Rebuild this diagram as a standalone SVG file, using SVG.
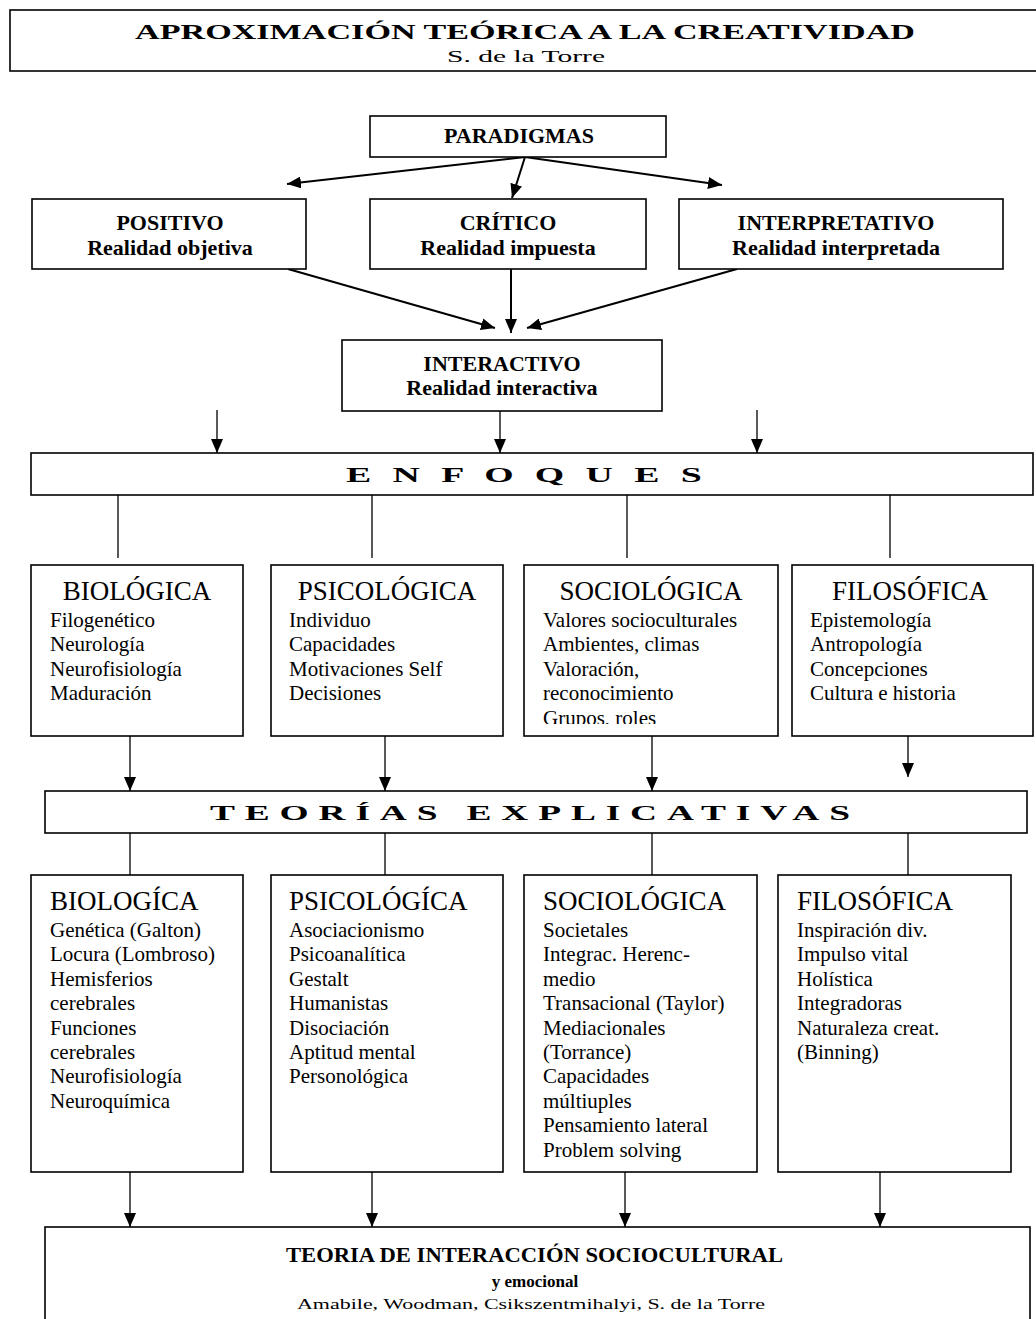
<svg xmlns="http://www.w3.org/2000/svg" width="1036" height="1319" viewBox="0 0 1036 1319">
<style>
.box{fill:#fff;stroke:#000;stroke-width:1.6}
.s{font-family:"Liberation Serif","Times New Roman",serif;fill:#000}
.b{font-weight:bold}
.lbl{font-size:22px;font-weight:bold;text-anchor:middle}
.hd{font-size:27px}
.hdc{font-size:27px;text-anchor:middle}
.it{font-size:21px}
.conn{stroke:#000;stroke-width:1.3;fill:none}
.thick{stroke-width:2}
</style>
<defs>
<marker id="ah" markerUnits="userSpaceOnUse" markerWidth="14" markerHeight="12" refX="14" refY="6" orient="auto">
<path d="M0,0 L14,6 L0,12 z" fill="#000"/>
</marker>
<clipPath id="clipSoc1"><rect x="524" y="565" width="254" height="159"/></clipPath>
</defs>

<g id="title">
<rect class="box" x="10" y="10" width="1040" height="61"/>
<text class="s b" x="135" y="39" font-size="20" textLength="780" lengthAdjust="spacingAndGlyphs">APROXIMACIÓN TEÓRICA A LA CREATIVIDAD</text>
<text class="s" x="447" y="62" font-size="17" textLength="158" lengthAdjust="spacingAndGlyphs">S. de la Torre</text>
</g>

<g id="connectors">
<line class="conn thick" x1="525" y1="157" x2="287" y2="184" marker-end="url(#ah)"/>
<line class="conn thick" x1="525" y1="157" x2="512" y2="198" marker-end="url(#ah)"/>
<line class="conn thick" x1="525" y1="157" x2="722" y2="185" marker-end="url(#ah)"/>
<line class="conn thick" x1="288" y1="269" x2="495" y2="328" marker-end="url(#ah)"/>
<line class="conn thick" x1="511" y1="269" x2="511" y2="333" marker-end="url(#ah)"/>
<line class="conn thick" x1="737" y1="269" x2="527" y2="328" marker-end="url(#ah)"/>
<line class="conn" x1="217" y1="410" x2="217" y2="453" marker-end="url(#ah)"/>
<line class="conn" x1="500" y1="411" x2="500" y2="453" marker-end="url(#ah)"/>
<line class="conn" x1="757" y1="410" x2="757" y2="453" marker-end="url(#ah)"/>
<line class="conn" x1="118" y1="495" x2="118" y2="558"/>
<line class="conn" x1="372" y1="495" x2="372" y2="558"/>
<line class="conn" x1="627" y1="495" x2="627" y2="558"/>
<line class="conn" x1="890" y1="495" x2="890" y2="558"/>
<line class="conn" x1="130" y1="736" x2="130" y2="791" marker-end="url(#ah)"/>
<line class="conn" x1="385" y1="736" x2="385" y2="791" marker-end="url(#ah)"/>
<line class="conn" x1="652" y1="736" x2="652" y2="791" marker-end="url(#ah)"/>
<line class="conn" x1="908" y1="736" x2="908" y2="777" marker-end="url(#ah)"/>
<line class="conn" x1="130" y1="833" x2="130" y2="875"/>
<line class="conn" x1="385" y1="833" x2="385" y2="875"/>
<line class="conn" x1="652" y1="833" x2="652" y2="875"/>
<line class="conn" x1="908" y1="833" x2="908" y2="875"/>
<line class="conn" x1="130" y1="1172" x2="130" y2="1227" marker-end="url(#ah)"/>
<line class="conn" x1="372" y1="1172" x2="372" y2="1227" marker-end="url(#ah)"/>
<line class="conn" x1="625" y1="1172" x2="625" y2="1227" marker-end="url(#ah)"/>
<line class="conn" x1="880" y1="1172" x2="880" y2="1227" marker-end="url(#ah)"/>
</g>

<g id="paradigmas">
<rect class="box" x="370" y="116" width="296" height="41"/>
<text class="s lbl" x="519" y="143">PARADIGMAS</text>
</g>
<g id="positivo">
<rect class="box" x="32" y="199" width="274" height="70"/>
<text class="s lbl" x="170" y="230">POSITIVO</text>
<text class="s lbl" x="170" y="255">Realidad objetiva</text>
</g>
<g id="critico">
<rect class="box" x="370" y="199" width="276" height="70"/>
<text class="s lbl" x="508" y="230">CRÍTICO</text>
<text class="s lbl" x="508" y="255">Realidad impuesta</text>
</g>
<g id="interpretativo">
<rect class="box" x="679" y="199" width="324" height="70"/>
<text class="s lbl" x="836" y="230">INTERPRETATIVO</text>
<text class="s lbl" x="836" y="255">Realidad interpretada</text>
</g>
<g id="interactivo">
<rect class="box" x="342" y="340" width="320" height="71"/>
<text class="s lbl" x="502" y="371">INTERACTIVO</text>
<text class="s lbl" x="502" y="395">Realidad interactiva</text>
</g>
<g id="enfoques">
<rect class="box" x="31" y="453" width="1002" height="42"/>
<text class="s b" transform="translate(346,482) scale(1.8,1)" x="0" y="0" font-size="21" letter-spacing="3.3">E N F O Q U E S</text>
</g>

<g id="enf-biologica">
<rect class="box" x="31" y="565" width="212" height="171"/>
<text class="s hdc" x="137" y="600">BIOLÓGICA</text>
<text class="s it" x="50" y="627">Filogenético</text>
<text class="s it" x="50" y="651.4">Neurología</text>
<text class="s it" x="50" y="675.8">Neurofisiología</text>
<text class="s it" x="50" y="700.2">Maduración</text>
</g>
<g id="enf-psicologica">
<rect class="box" x="271" y="565" width="232" height="171"/>
<text class="s hdc" x="387" y="600">PSICOLÓGICA</text>
<text class="s it" x="289" y="627">Individuo</text>
<text class="s it" x="289" y="651.4">Capacidades</text>
<text class="s it" x="289" y="675.8">Motivaciones Self</text>
<text class="s it" x="289" y="700.2">Decisiones</text>
</g>
<g id="enf-sociologica">
<rect class="box" x="524" y="565" width="254" height="171"/>
<text class="s hdc" x="651" y="600">SOCIOLÓGICA</text>
<g clip-path="url(#clipSoc1)">
<text class="s it" x="543" y="627">Valores socioculturales</text>
<text class="s it" x="543" y="651.4">Ambientes, climas</text>
<text class="s it" x="543" y="675.8">Valoración,</text>
<text class="s it" x="543" y="700.2">reconocimiento</text>
<text class="s it" x="543" y="724.6">Grupos, roles</text>
</g>
</g>
<g id="enf-filosofica">
<rect class="box" x="792" y="565" width="241" height="171"/>
<text class="s hdc" x="910" y="600">FILOSÓFICA</text>
<text class="s it" x="810" y="627">Epistemología</text>
<text class="s it" x="810" y="651.4">Antropología</text>
<text class="s it" x="810" y="675.8">Concepciones</text>
<text class="s it" x="810" y="700.2">Cultura e historia</text>
</g>

<g id="teorias">
<rect class="box" x="45" y="791" width="982" height="42"/>
<text class="s b" transform="translate(210,820) scale(1.7,1)" x="0" y="0" font-size="22" letter-spacing="5.8">TEORÍAS EXPLICATIVAS</text>
</g>

<g id="teo-biologica">
<rect class="box" x="31" y="875" width="212" height="297"/>
<text class="s hd" x="50" y="910">BIOLOGÍCA</text>
<text class="s it" x="50" y="937">Genética (Galton)</text>
<text class="s it" x="50" y="961.4">Locura (Lombroso)</text>
<text class="s it" x="50" y="985.8">Hemisferios</text>
<text class="s it" x="50" y="1010.2">cerebrales</text>
<text class="s it" x="50" y="1034.6">Funciones</text>
<text class="s it" x="50" y="1059">cerebrales</text>
<text class="s it" x="50" y="1083.4">Neurofisiología</text>
<text class="s it" x="50" y="1107.8">Neuroquímica</text>
</g>
<g id="teo-psicologica">
<rect class="box" x="271" y="875" width="232" height="297"/>
<text class="s hd" x="289" y="910">PSICOLÓGÍCA</text>
<text class="s it" x="289" y="937">Asociacionismo</text>
<text class="s it" x="289" y="961.4">Psicoanalítica</text>
<text class="s it" x="289" y="985.8">Gestalt</text>
<text class="s it" x="289" y="1010.2">Humanistas</text>
<text class="s it" x="289" y="1034.6">Disociación</text>
<text class="s it" x="289" y="1059">Aptitud mental</text>
<text class="s it" x="289" y="1083.4">Personológica</text>
</g>
<g id="teo-sociologica">
<rect class="box" x="524" y="875" width="233" height="297"/>
<text class="s hd" x="543" y="910">SOCIOLÓGICA</text>
<text class="s it" x="543" y="937">Societales</text>
<text class="s it" x="543" y="961.4">Integrac. Herenc-</text>
<text class="s it" x="543" y="985.8">medio</text>
<text class="s it" x="543" y="1010.2">Transacional (Taylor)</text>
<text class="s it" x="543" y="1034.6">Mediacionales</text>
<text class="s it" x="543" y="1059">(Torrance)</text>
<text class="s it" x="543" y="1083.4">Capacidades</text>
<text class="s it" x="543" y="1107.8">múltiuples</text>
<text class="s it" x="543" y="1132.2">Pensamiento lateral</text>
<text class="s it" x="543" y="1156.6">Problem solving</text>
</g>
<g id="teo-filosofica">
<rect class="box" x="778" y="875" width="233" height="297"/>
<text class="s hd" x="797" y="910">FILOSÓFICA</text>
<text class="s it" x="797" y="937">Inspiración div.</text>
<text class="s it" x="797" y="961.4">Impulso vital</text>
<text class="s it" x="797" y="985.8">Holística</text>
<text class="s it" x="797" y="1010.2">Integradoras</text>
<text class="s it" x="797" y="1034.6">Naturaleza creat.</text>
<text class="s it" x="797" y="1059">(Binning)</text>
</g>

<g id="interaccion">
<rect class="box" x="45" y="1227" width="985" height="110"/>
<text class="s b" x="286" y="1262" font-size="20" textLength="497" lengthAdjust="spacingAndGlyphs">TEORIA DE INTERACCIÓN SOCIOCULTURAL</text>
<text class="s b" x="535" y="1287" font-size="17" text-anchor="middle">y emocional</text>
<text class="s" x="297" y="1309" font-size="14" textLength="468" lengthAdjust="spacingAndGlyphs">Amabile, Woodman, Csikszentmihalyi, S. de la Torre</text>
</g>
</svg>
